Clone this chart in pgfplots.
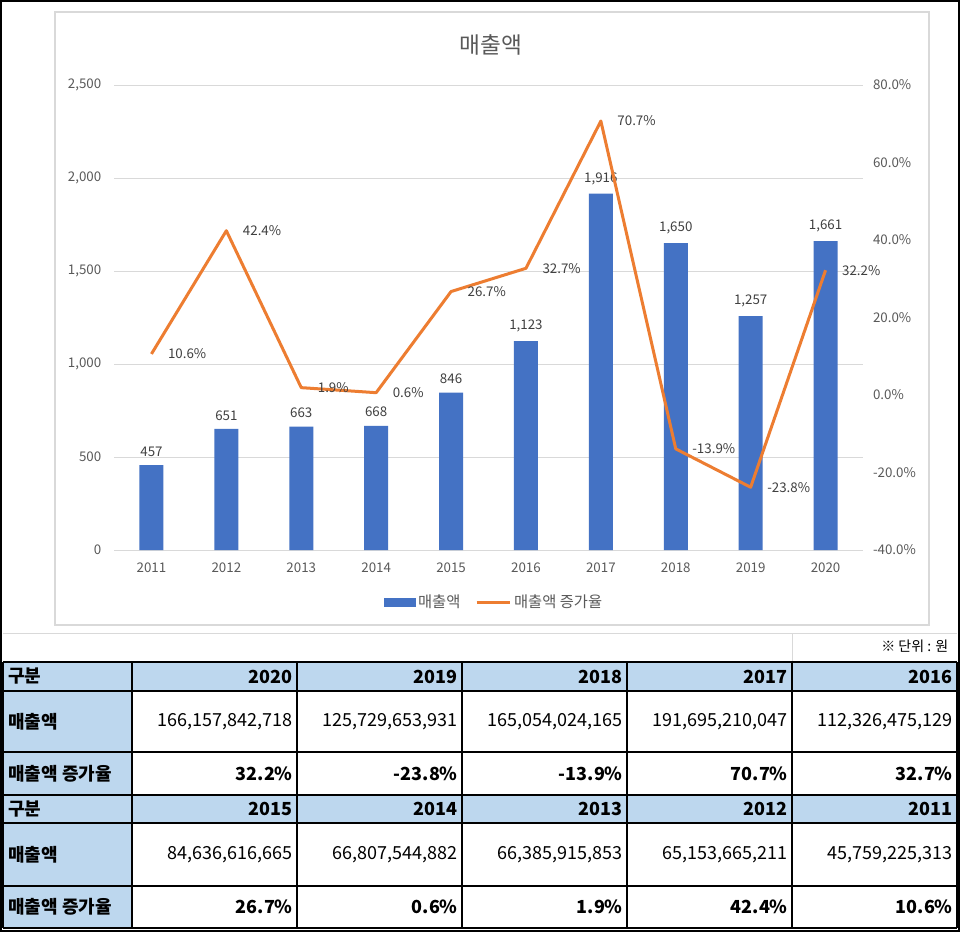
\documentclass[border=0pt]{standalone}
\usepackage{fontspec}
\setmainfont{Noto Sans CJK KR}
\usepackage{pgfplots}
\pgfplotsset{compat=1.18}
\definecolor{barblue}{HTML}{4472C4}
\definecolor{lineor}{HTML}{ED7D31}
\definecolor{gridg}{HTML}{D9D9D9}
\definecolor{txtg}{HTML}{595959}
\definecolor{lblg}{HTML}{404040}
\definecolor{cellb}{HTML}{BDD7EE}
\newcommand{\cf}{\fontsize{10}{12}\selectfont}
\newcommand{\tf}{\fontsize{13.5}{16}\selectfont}
\begin{document}
\begin{tikzpicture}[x=0.75pt,y=-0.75pt]
\fill[white] (0,0) rectangle (960,932);
\draw[gridg, line width=0.9pt] (55,12) rectangle (929,625);
\coordinate (A) at (114,550);
\node[font=\fontsize{17}{20}\selectfont, text=txtg] at (491,45) {매출액};
\begin{axis}[at={(A)}, anchor=south west, scale only axis,
  width=561.75pt, height=348.75pt,
  xmin=-0.5, xmax=9.5, ymin=0, ymax=2500,
  ytick={0,500,...,2500}, xtick={0,...,9},
  xticklabels={2011,2012,2013,2014,2015,2016,2017,2018,2019,2020},
  axis x line*=bottom, axis y line*=left,
  x axis line style={draw=gridg, line width=0.75pt, -},
  y axis line style={draw=none},
  major tick length=0pt,
  ymajorgrids, grid style={gridg, line width=0.75pt},
  /pgf/number format/1000 sep={,},
  /pgf/number format/assume math mode=true,
  ticklabel style={font=\cf, text=txtg},
  xticklabel style={yshift=-6pt},
  yticklabel style={xshift=-6pt},
  ybar, bar width=18pt,
  nodes near coords,
  nodes near coords style={font=\cf, text=lblg, yshift=3pt},
]
\addplot[fill=barblue, draw=none] coordinates {(0,457) (1,651) (2,663) (3,668) (4,846) (5,1123) (6,1916) (7,1650) (8,1257) (9,1661)};
\end{axis}
\begin{axis}[at={(A)}, anchor=south west, scale only axis,
  width=561.75pt, height=348.75pt,
  xmin=-0.5, xmax=9.5, ymin=-40, ymax=80,
  ytick={-40,-20,...,80},
  axis y line*=right, axis x line=none,
  y axis line style={draw=none},
  major tick length=0pt,
  /pgf/number format/assume math mode=true,
  yticklabel={\pgfmathprintnumber[fixed,fixed zerofill,precision=1]{\tick}\%},
  yticklabel style={font=\cf, text=txtg, xshift=4pt},
  legend style={at={(axis description cs:0.508,-0.112)}, anchor=center, draw=none, fill=none,
    font=\fontsize{11.5}{13}\selectfont, text=txtg,
    /tikz/every even column/.append style={column sep=9pt}},
  legend columns=2,
]
\addlegendimage{legend image code/.code={\fill[barblue] (0pt,-3pt) rectangle (23pt,3pt);}}
\addlegendentry{매출액}
\addplot[lineor, line width=2.25pt, line join=round,
  legend image code/.code={\draw[lineor, line width=2.25pt] (0pt,0pt) -- (25pt,0pt);},
  nodes near coords={\pgfmathprintnumber[fixed,fixed zerofill,precision=1]{\pgfplotspointmeta}\%},
  nodes near coords style={font=\cf, text=lblg, anchor=west, xshift=8pt}]
  coordinates {(0,10.6) (1,42.4) (2,1.9) (3,0.6) (4,26.7) (5,32.7) (6,70.7) (7,-13.9) (8,-23.8) (9,32.2)};
\addlegendentry{매출액 증가율}
\end{axis}
% table
\draw[gridg, line width=0.75pt] (3,633) -- (957,633);
\draw[gridg, line width=0.75pt] (792,633) -- (792,662);
\node[anchor=east, font=\fontsize{10.5}{12}\selectfont] at (953,646) {※ 단위 : 원};
\fill[cellb] (3,662) rectangle (957,691);
\fill[cellb] (3,795) rectangle (957,823);
\fill[cellb] (3,662) rectangle (132,928);
\foreach \yy in {662,691,752,795,823,928} \draw[black, line width=0.8pt] (3,\yy) -- (957,\yy);
\draw[black, line width=1.6pt] (3,886) -- (957,886);
\foreach \xx in {3,132,297,462,627,792,957} \draw[black, line width=0.8pt] (\xx,662) -- (\xx,928);
\draw[black, line width=0.8pt] (1,1) rectangle (959,931);
% labels
\foreach \yy/\t in {676.5/구분, 721.5/매출액, 773.5/매출액 증가율, 809/구분, 854.5/매출액, 907/매출액 증가율}
  \node[anchor=west, font=\tf\bfseries, inner sep=0pt] at (8,\yy) {\t};
\foreach \xx/\t in {293/2020, 458/2019, 623/2018, 788/2017, 953/2016}
  \node[anchor=east, font=\tf\bfseries, inner sep=0pt] at (\xx,676.5) {\t};
\foreach \xx/\t in {293/{166,157,842,718}, 458/{125,729,653,931}, 623/{165,054,024,165}, 788/{191,695,210,047}, 953/{112,326,475,129}}
  \node[anchor=east, font=\tf, inner sep=0pt] at (\xx,721.5) {\t};
\foreach \xx/\t in {293/32.2\%, 458/-23.8\%, 623/-13.9\%, 788/70.7\%, 953/32.7\%}
  \node[anchor=east, font=\tf\bfseries, inner sep=0pt] at (\xx,773.5) {\t};
\foreach \xx/\t in {293/2015, 458/2014, 623/2013, 788/2012, 953/2011}
  \node[anchor=east, font=\tf\bfseries, inner sep=0pt] at (\xx,809) {\t};
\foreach \xx/\t in {293/{84,636,616,665}, 458/{66,807,544,882}, 623/{66,385,915,853}, 788/{65,153,665,211}, 953/{45,759,225,313}}
  \node[anchor=east, font=\tf, inner sep=0pt] at (\xx,854.5) {\t};
\foreach \xx/\t in {293/26.7\%, 458/0.6\%, 623/1.9\%, 788/42.4\%, 953/10.6\%}
  \node[anchor=east, font=\tf\bfseries, inner sep=0pt] at (\xx,907) {\t};
\end{tikzpicture}
\end{document}
